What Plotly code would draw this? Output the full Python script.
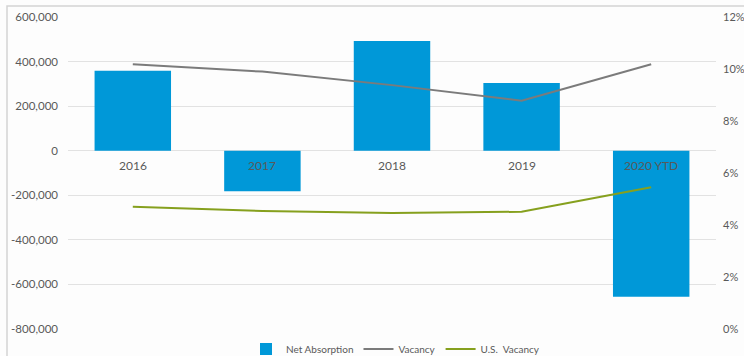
import plotly.graph_objects as go

# Annual figures
years = ["2016", "2017", "2018", "2019", "2020 YTD"]
net_absorption = [359000, -182000, 492000, 304000, -655000]
vacancy = [10.18, 9.90, 9.38, 8.78, 10.18]
us_vacancy = [4.70, 4.54, 4.46, 4.51, 5.45]

left_ticks = [-800000, -600000, -400000, -200000, 0, 200000, 400000, 600000]
left_labels = ["-800,000", "-600,000", "-400,000", "-200,000", "0", "200,000", "400,000", "600,000"]
right_ticks = [0, 2, 4, 6, 8, 10, 12]
right_labels = ["0%", "2%", "4%", "6%", "8%", "10%", "12%"]

BLUE = "#0098d8"
GRAY_LINE = "#7b7b7b"
OLIVE = "#86a01e"
TEXT = "#595959"
GRID = "#e2e2e2"
FONT = "Lato"

fig = go.Figure()

fig.add_trace(go.Bar(
    x=years, y=net_absorption, name="Net Absorption",
    marker=dict(color=BLUE, line=dict(width=0)),
    yaxis="y",
))
fig.add_trace(go.Scatter(
    x=years, y=vacancy, name="Vacancy", mode="lines",
    line=dict(color=GRAY_LINE, width=2),
    yaxis="y2",
))
fig.add_trace(go.Scatter(
    x=years, y=us_vacancy, name="U.S.  Vacancy", mode="lines",
    line=dict(color=OLIVE, width=2),
    yaxis="y2",
))

# Category labels sit just under the zero line (placed by category index)
for i, yr in enumerate(years):
    fig.add_annotation(
        x=i, y=0, xref="x", yref="y", text=yr, showarrow=False,
        yanchor="top", yshift=-5,
        font=dict(family=FONT, size=12, color=TEXT),
    )

# Outer frame of the chart
fig.add_shape(
    type="rect", xref="paper", yref="paper",
    x0=-61 / 648, x1=760 / 648, y0=-0.2, y1=1 + 11 / 312,
    line=dict(color="#d4d4d4", width=1.5), fillcolor="rgba(0,0,0,0)",
    layer="below",
)

fig.update_layout(
    width=744, height=356,
    margin=dict(l=68, r=28, t=17, b=27, autoexpand=False),
    paper_bgcolor="#fdfdfd", plot_bgcolor="#fdfdfd",
    bargap=0.41,
    showlegend=True,
    legend=dict(
        orientation="h", xref="container", yref="container",
        x=246 / 744, xanchor="left",
        y=(356 - 349) / 356, yanchor="middle",
        font=dict(family=FONT, size=10, color=TEXT),
        bgcolor="rgba(0,0,0,0)", itemwidth=30, tracegroupgap=0,
    ),
    xaxis=dict(
        type="category", range=[-0.5, len(years) - 0.5],
        showticklabels=False, showgrid=False, zeroline=False,
        showline=False, ticks="",
    ),
    yaxis=dict(
        range=[-800000, 600000], tickvals=left_ticks, ticktext=left_labels,
        showgrid=True, gridcolor=GRID, gridwidth=1,
        zeroline=True, zerolinecolor=GRID, zerolinewidth=1,
        showline=False, ticks="", ticklabelstandoff=9,
        tickfont=dict(family=FONT, size=11.5, color=TEXT),
    ),
    yaxis2=dict(
        overlaying="y", side="right", range=[0, 12],
        tickvals=right_ticks, ticktext=right_labels,
        showgrid=False, zeroline=False, showline=False,
        ticks="", ticklabelstandoff=6,
        tickfont=dict(family=FONT, size=11, color=TEXT),
    ),
)

fig.write_html("out.html")
